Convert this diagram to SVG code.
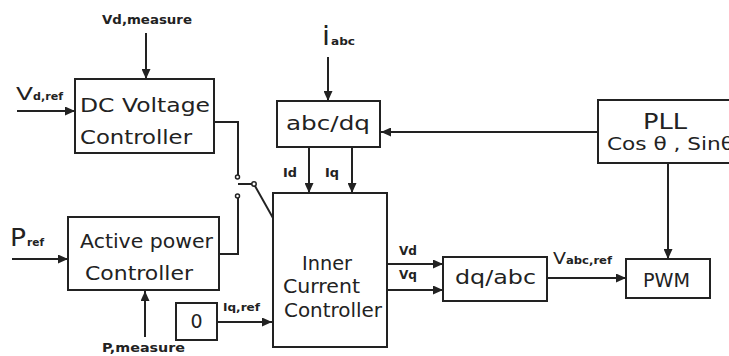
<svg xmlns="http://www.w3.org/2000/svg" width="729" height="356" viewBox="0 0 729 356">
<style>
.box{fill:#fff;stroke:#222;stroke-width:2}
.ln{fill:none;stroke:#222;stroke-width:2}
.arr{fill:none;stroke:#222;stroke-width:2;marker-end:url(#ah)}
text{font-family:"DejaVu Sans","Liberation Sans",sans-serif;fill:#222}
.big{font-size:19px}
.lab{font-size:13px;font-weight:bold}
.sub{font-size:10px;font-weight:bold}
</style>
<defs>
<marker id="ah" markerUnits="userSpaceOnUse" markerWidth="11" markerHeight="9" refX="10" refY="4.5" orient="auto">
<path d="M0,0 L10,4.5 L0,9 z" fill="#222"/>
</marker>
</defs>
<rect width="729" height="356" fill="#fff"/>
<g id="connectors">
<path class="arr" d="M146,33 V79"/>
<path class="arr" d="M17,111 H75"/>
<path class="arr" d="M12,259 H68"/>
<path class="arr" d="M145,337 V291"/>
<path class="arr" d="M217,322 H272"/>
<path class="arr" d="M328,57 V101"/>
<path class="arr" d="M598,132 H381"/>
<path class="arr" d="M309,147 V193"/>
<path class="arr" d="M352,147 V193"/>
<path class="arr" d="M387,264 H443"/>
<path class="arr" d="M387,290 H443"/>
<path class="arr" d="M547,278 H626"/>
<path class="arr" d="M668,163 V259"/>
<path class="ln" d="M214,122 H238 V175"/>
<path class="ln" d="M219,254 H238 V198"/>
<circle cx="237.5" cy="177" r="2" fill="none" stroke="#222" stroke-width="1.5"/>
<circle cx="237.5" cy="196" r="2" fill="none" stroke="#222" stroke-width="1.5"/>
<path class="ln" d="M238,184 H252"/>
<circle cx="254" cy="184" r="2.2" fill="#fff" stroke="#222" stroke-width="1.5"/>
<path class="ln" d="M255,186 L273,218"/>
</g>
<g id="vd-measure"><text class="lab" x="102" y="24" textLength="90" lengthAdjust="spacingAndGlyphs">Vd,measure</text></g>
<g id="vd-ref"><text x="16" y="100" font-size="17" textLength="17" lengthAdjust="spacingAndGlyphs">V</text><text class="sub" x="33" y="100" textLength="30" lengthAdjust="spacingAndGlyphs">d,ref</text></g>
<g id="dc-voltage-controller">
<rect class="box" x="75" y="79" width="139" height="74"/>
<text class="big" x="80" y="112" textLength="130" lengthAdjust="spacingAndGlyphs">DC Voltage</text>
<text class="big" x="80" y="144" textLength="112" lengthAdjust="spacingAndGlyphs">Controller</text>
</g>
<g id="p-ref"><text x="10" y="246" font-size="24" textLength="16" lengthAdjust="spacingAndGlyphs">P</text><text class="sub" x="27" y="246" textLength="17" lengthAdjust="spacingAndGlyphs">ref</text></g>
<g id="active-power-controller">
<rect class="box" x="68" y="217" width="151" height="73"/>
<text class="big" x="80" y="248" textLength="133" lengthAdjust="spacingAndGlyphs">Active power</text>
<text class="big" x="85" y="280" textLength="108" lengthAdjust="spacingAndGlyphs">Controller</text>
</g>
<g id="p-measure"><text class="lab" x="102" y="352" textLength="83" lengthAdjust="spacingAndGlyphs">P,measure</text></g>
<g id="zero">
<rect class="box" x="176" y="303" width="41" height="37"/>
<text class="big" x="196.5" y="328" text-anchor="middle">0</text>
<text x="223" y="311" font-size="11" font-weight="bold" textLength="37" lengthAdjust="spacingAndGlyphs">Iq,ref</text>
</g>
<g id="i-abc"><text x="322" y="45" font-size="26" textLength="8" lengthAdjust="spacingAndGlyphs">i</text><text class="sub" x="331" y="45" textLength="24" lengthAdjust="spacingAndGlyphs">abc</text></g>
<g id="abc-dq">
<rect class="box" x="277" y="101" width="103" height="46"/>
<text x="286" y="130" font-size="20" textLength="84" lengthAdjust="spacingAndGlyphs">abc/dq</text>
<text class="lab" x="283" y="177" textLength="14" lengthAdjust="spacingAndGlyphs">Id</text>
<text class="lab" x="325" y="177" textLength="14" lengthAdjust="spacingAndGlyphs">Iq</text>
</g>
<g id="inner-current-controller">
<rect class="box" x="273" y="193" width="114" height="154"/>
<text class="big" x="302" y="270" textLength="50" lengthAdjust="spacingAndGlyphs">Inner</text>
<text class="big" x="283" y="293" textLength="77" lengthAdjust="spacingAndGlyphs">Current</text>
<text class="big" x="284" y="317" textLength="98" lengthAdjust="spacingAndGlyphs">Controller</text>
<text class="lab" x="399" y="255" textLength="18" lengthAdjust="spacingAndGlyphs">Vd</text>
<text class="lab" x="399" y="279" textLength="18" lengthAdjust="spacingAndGlyphs">Vq</text>
</g>
<g id="dq-abc">
<rect class="box" x="443" y="257" width="104" height="44"/>
<text x="455" y="284" font-size="20" textLength="81" lengthAdjust="spacingAndGlyphs">dq/abc</text>
<text x="553" y="264" font-size="15" textLength="13" lengthAdjust="spacingAndGlyphs">V</text>
<text class="sub" x="566" y="264" textLength="46" lengthAdjust="spacingAndGlyphs">abc,ref</text>
</g>
<g id="pll">
<rect class="box" x="598" y="100" width="150" height="63"/>
<text x="643" y="129" font-size="22" textLength="44" lengthAdjust="spacingAndGlyphs">PLL</text>
<text x="607" y="150" font-size="18" textLength="127" lengthAdjust="spacingAndGlyphs">Cos θ , Sinθ</text>
</g>
<g id="pwm">
<rect class="box" x="626" y="259" width="84" height="39"/>
<text class="big" x="643" y="287" textLength="47" lengthAdjust="spacingAndGlyphs">PWM</text>
</g>
</svg>
